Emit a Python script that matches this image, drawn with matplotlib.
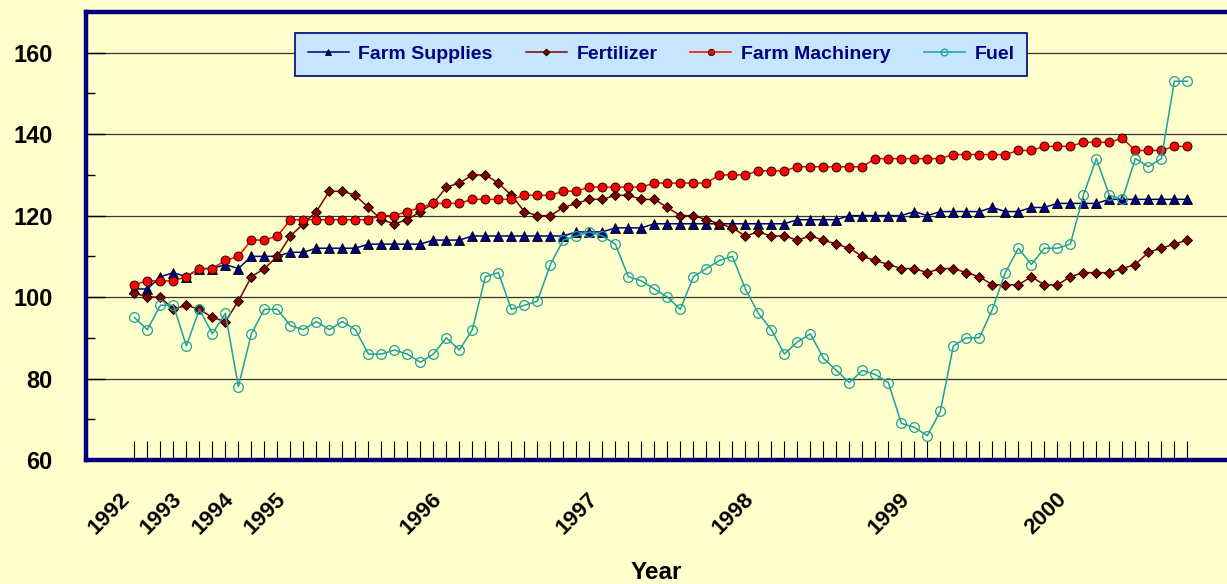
import matplotlib.pyplot as plt
import numpy as np

# Estilo general
plt.rcParams['font.family'] = ['Liberation Sans', 'DejaVu Sans']
plt.rcParams['font.weight'] = 'bold'

FONDO = '#FFFFCC'
AZUL = '#000080'

# Periodos: trimestral 1992-1994, mensual 1995 - oct 2000
anios_trimestrales = [1992, 1993, 1994]
anios_mensuales = [1995, 1996, 1997, 1998, 1999, 2000]
meses_ultimo_anio = 10

farm_supplies = [102, 102, 105, 106, 105, 107, 107, 108, 107, 110, 110, 110, 111, 111, 112, 112, 112, 112, 113,
                 113, 113, 113, 113, 114, 114, 114, 115, 115, 115, 115, 115, 115, 115, 115, 116, 116, 116, 117, 117,
                 117, 118, 118,
                 118, 118, 118, 118, 118, 118, 118, 118, 118, 119, 119, 119, 119, 120, 120, 120, 120, 120, 121, 120,
                 121, 121,
                 121, 121, 122, 121, 121, 122, 122, 123, 123, 123, 123, 124, 124, 124, 124, 124, 124, 124]

fertilizer = [101, 100, 100, 97, 98, 97, 95, 94, 99, 105, 107, 110, 115, 118, 121, 126, 126, 125, 122,
              119, 118, 119, 121, 123, 127, 128, 130, 130, 128, 125, 121, 120, 120, 122, 123, 124, 124, 125, 125,
              124, 124, 122,
              120, 120, 119, 118, 117, 115, 116, 115, 115, 114, 115, 114, 113, 112, 110, 109, 108, 107, 107, 106,
              107, 107,
              106, 105, 103, 103, 103, 105, 103, 103, 105, 106, 106, 106, 107, 108, 111, 112, 113, 114]

farm_machinery = [103, 104, 104, 104, 105, 107, 107, 109, 110, 114, 114, 115, 119, 119, 119, 119, 119, 119, 119,
                  120, 120, 121, 122, 123, 123, 123, 124, 124, 124, 124, 125, 125, 125, 126, 126, 127, 127, 127, 127,
                  127, 128, 128,
                  128, 128, 128, 130, 130, 130, 131, 131, 131, 132, 132, 132, 132, 132, 132, 134, 134, 134, 134, 134,
                  134,
                  135, 135, 135, 135, 135, 136, 136, 137, 137, 137, 138, 138, 138, 139, 136, 136, 136, 137, 137]

fuel = [95, 92, 98, 98, 88, 97, 91, 96, 78, 91, 97, 97, 93, 92, 94, 92, 94, 92, 86, 86,
        87, 86, 84, 86, 90, 87, 92, 105, 106, 97, 98, 99, 108, 114, 115, 116, 115, 113, 105, 104, 102, 100,
        97, 105, 107, 109, 110, 102, 96, 92, 86, 89, 91, 85, 82, 79, 82, 81, 79, 69, 68, 66, 72, 88,
        90, 90, 97, 106, 112, 108, 112, 112, 113, 125, 134, 125, 124, 134, 132, 134, 153, 153]


def etiquetas_periodos():
    """Nombre del anio en el primer periodo de cada anio, vacio en el resto"""
    etiquetas = []
    for anio in anios_trimestrales:
        etiquetas += [str(anio)] + [''] * 3
    for anio in anios_mensuales:
        n = meses_ultimo_anio if anio == anios_mensuales[-1] else 12
        etiquetas += [str(anio)] + [''] * (n - 1)
    return etiquetas


def main():
    etiquetas = etiquetas_periodos()
    x = np.arange(len(etiquetas))

    fig = plt.figure(figsize=(12.27, 5.84), dpi=100, facecolor=FONDO)
    ax = fig.add_axes([0.0701, 0.2123, 0.9299, 0.7672], facecolor=FONDO)

    ax.plot(x, farm_supplies, '-', color=AZUL, lw=1.1, marker='^', ms=6.5,
            mfc=AZUL, mec='black', mew=0.6, label='Farm Supplies')
    ax.plot(x, fertilizer, '-', color='#800000', lw=1.1, marker='D', ms=5,
            mfc='#800000', mec='black', mew=0.6, label='Fertilizer')
    ax.plot(x, farm_machinery, '-', color='#FF0000', lw=1.1, marker='o', ms=6.5,
            mfc='#FF0000', mec='black', mew=0.6, label='Farm Machinery')
    ax.plot(x, fuel, '-', color='#1FA0A0', lw=1.1, marker='o', ms=7,
            mfc='none', mec='#1FA0A0', mew=0.9, label='Fuel')

    # Ejes
    ax.set_xlim(-3.72, 84.05)
    ax.set_ylim(60, 170)
    ax.set_yticks(range(60, 161, 20))
    ax.set_yticks(range(70, 160, 20), minor=True)
    ax.tick_params(axis='y', which='major', direction='in', length=14, width=1,
                   labelsize=17, pad=24)
    ax.tick_params(axis='y', which='minor', direction='in', length=6.5, width=1)

    ax.set_xticks(x)
    ax.set_xticklabels(etiquetas, rotation=45, ha='right', va='bottom',
                       rotation_mode='anchor', fontsize=16, fontweight='bold')
    ax.tick_params(axis='x', direction='in', length=13.5, width=0.8, pad=31.5)

    ax.yaxis.grid(True, color='#333333', lw=0.9)
    ax.set_axisbelow(True)

    for lado in ['left', 'top', 'bottom']:
        ax.spines[lado].set_color(AZUL)
        ax.spines[lado].set_linewidth(3.2)
    ax.spines['right'].set_visible(False)

    ax.set_xlabel('Year', fontsize=17.5, fontweight='bold', labelpad=16)

    leg = ax.legend(loc='center', bbox_to_anchor=(0.504, 0.906), ncol=4,
                    fontsize=14, frameon=True, fancybox=False, framealpha=1,
                    handlelength=2.1, handletextpad=0.5, columnspacing=1.7,
                    borderpad=0.65, markerscale=0.7)
    leg.get_frame().set_facecolor('#C6E6FF')
    leg.get_frame().set_edgecolor(AZUL)
    leg.get_frame().set_linewidth(1.2)
    for t in leg.get_texts():
        t.set_color(AZUL)

    fig.savefig('out.png', dpi=100, facecolor=FONDO)
    plt.close(fig)


if __name__ == "__main__":
    main()
